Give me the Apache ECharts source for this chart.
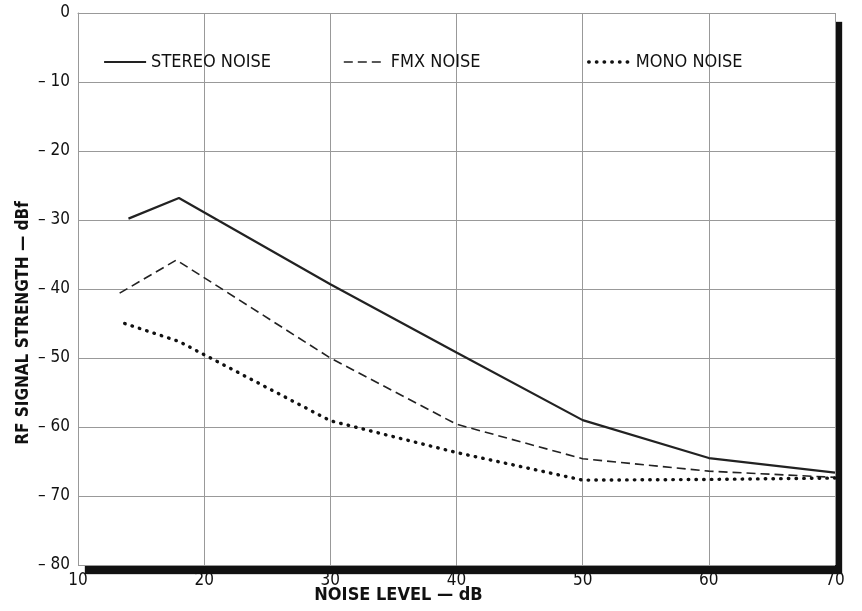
<!DOCTYPE html>
<html>
<head>
<meta charset="utf-8">
<script src="https://cdn.jsdelivr.net/npm/echarts@6/dist/echarts.min.js"></script>
<style>
  html, body { margin: 0; padding: 0; background: #fff; }
  #chart { width: 862px; height: 611px; }
</style>
</head>
<body>
<div id="chart"></div>
<script>
// noise level (dB) vs RF signal strength (dBf)
const stereoX = [14, 18, 30, 40, 50, 60, 70];
const stereoY = [-29.8, -26.8, -39.3, -49.2, -59, -64.5, -66.6];
const fmxX = [13.3, 17.8, 30, 40, 50, 60, 70];
const fmxY = [-40.6, -35.8, -50, -59.6, -64.6, -66.4, -67.3];
const monoX = [13.7, 18, 30, 40, 50, 60, 70];
const monoY = [-45, -47.6, -59.1, -63.7, -67.7, -67.6, -67.4];

const xTicks = [10, 20, 30, 40, 50, 60, 70];
const yTicks = [0, -10, -20, -30, -40, -50, -60, -70, -80];

const font = '"Liberation Sans Narrow", "DejaVu Sans Condensed", "Liberation Sans", sans-serif';

function pairs(xs, ys) {
  let d = [];
  for (let i in xs) {
    d[i] = [xs[i], ys[i]];
  }
  return d;
}

const chart = echarts.init(document.getElementById("chart"));

function legendAt(name, left, lineStyle) {
  return {
    data: [name],
    left: left,
    top: 48,
    itemWidth: 42,
    itemHeight: 14,
    itemStyle: { color: "transparent", borderColor: "transparent", borderWidth: 0 },
    lineStyle: lineStyle,
    textStyle: { fontFamily: font, fontSize: 18, color: "#111" }
  };
}

chart.setOption({
  animation: false,
  backgroundColor: "#fff",
  grid: {
    left: 78,
    right: 27,
    top: 13,
    bottom: 46,
    outerBoundsMode: "none",
    containLabel: false,
    show: true,
    backgroundColor: "#fff",
    borderWidth: 0,
    borderColor: "transparent",
    shadowColor: "#111",
    shadowBlur: 1,
    shadowOffsetX: 7,
    shadowOffsetY: 9
  },
  legend: [
    legendAt("STEREO NOISE", 98, { color: "#222", width: 2.2 }),
    legendAt("FMX NOISE", 338, { color: "#222", width: 1.6, type: [9, 5] }),
    legendAt("MONO NOISE", 582, { color: "#111", width: 3.4, type: [0.5, 7.2], cap: "round" })
  ],
  xAxis: [
    {
      type: "value",
      min: xTicks[0],
      max: xTicks[xTicks.length - 1],
      interval: 10,
      name: "NOISE LEVEL — dB",
      nameLocation: "middle",
      nameGap: 21,
      nameMoveOverlap: false,
      nameTextStyle: {
        fontFamily: font,
        fontSize: 18,
        fontWeight: "bold",
        color: "#111",
        padding: [0, 116, 0, 0]
      },
      axisLine: { show: false },
      axisTick: { show: false },
      axisLabel: {
        fontFamily: font,
        fontSize: 17,
        color: "#111",
        margin: 7,
        showMinLabel: true,
        showMaxLabel: true
      },
      splitLine: { show: true, lineStyle: { color: "#999", width: 1 } }
    },
    {
      // thin top frame line
      type: "value",
      position: "top",
      min: xTicks[0],
      max: xTicks[xTicks.length - 1],
      interval: 10,
      axisLine: { show: true, lineStyle: { color: "#999", width: 1 } },
      axisTick: { show: false },
      axisLabel: { show: false },
      splitLine: { show: false }
    }
  ],
  yAxis: {
    type: "value",
    min: yTicks[yTicks.length - 1],
    max: yTicks[0],
    interval: 10,
    name: "RF SIGNAL STRENGTH — dBf",
    nameLocation: "middle",
    nameGap: 46,
    nameMoveOverlap: false,
    nameTextStyle: {
      fontFamily: font,
      fontSize: 17,
      fontWeight: "bold",
      color: "#111",
      padding: [0, 68, 0, 0]
    },
    axisLine: { show: true, lineStyle: { color: "#999", width: 1 } },
    axisTick: { show: false },
    axisLabel: {
      fontFamily: font,
      fontSize: 17,
      color: "#111",
      margin: 8,
      formatter: function(v) {
        return v === 0 ? "0" : "– " + Math.abs(v);
      }
    },
    splitLine: { show: true, lineStyle: { color: "#999", width: 1 } }
  },
  series: [
    {
      name: "STEREO NOISE",
      type: "line",
      symbol: "none",
      data: pairs(stereoX, stereoY),
      lineStyle: { color: "#222", width: 2.2 },
      itemStyle: { color: "#222" },
      z: 3
    },
    {
      name: "FMX NOISE",
      type: "line",
      symbol: "none",
      data: pairs(fmxX, fmxY),
      lineStyle: { color: "#222", width: 1.6, type: [9, 5] },
      itemStyle: { color: "#222" },
      z: 3
    },
    {
      name: "MONO NOISE",
      type: "line",
      symbol: "none",
      data: pairs(monoX, monoY),
      lineStyle: { color: "#111", width: 3.4, type: [0.5, 7.2], cap: "round" },
      itemStyle: { color: "#111" },
      z: 3
    }
  ]
});
</script>
</body>
</html>
